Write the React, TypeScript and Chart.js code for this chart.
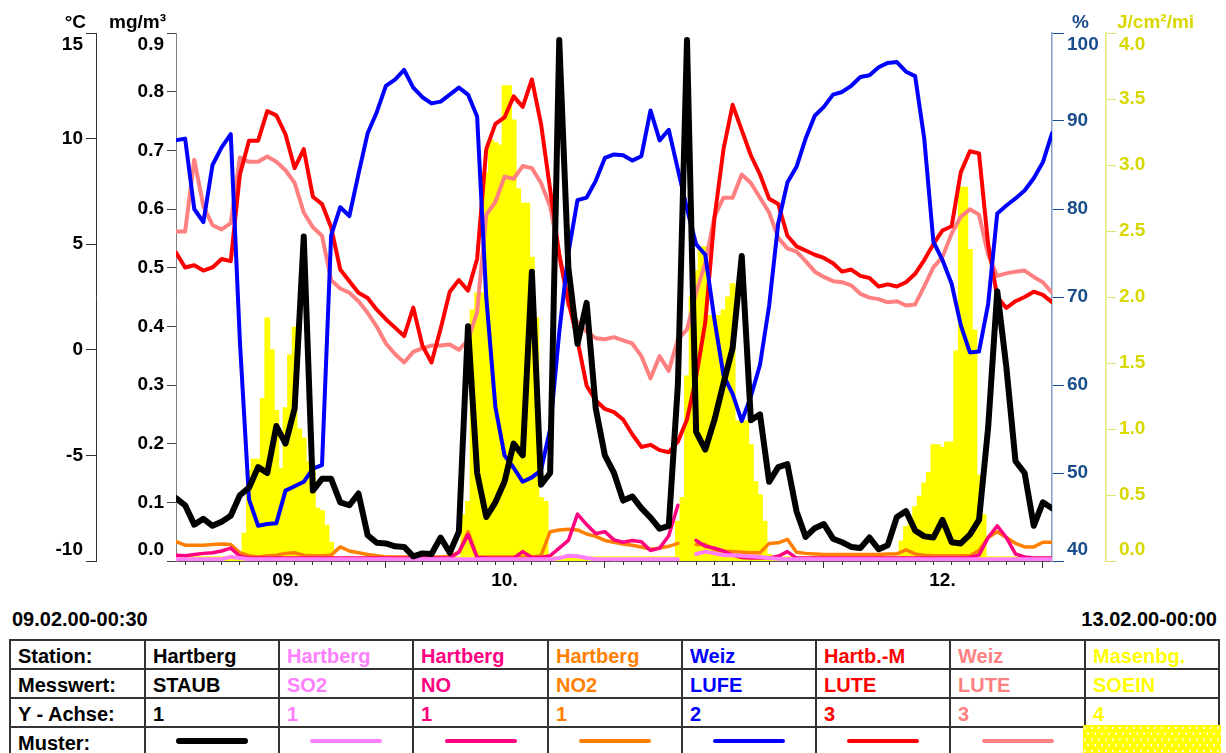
import React, { useEffect, useRef } from "react";
import { Chart, registerables } from "chart.js";

Chart.register(...registerables);

const FONT = '"Liberation Sans", Arial, Helvetica, sans-serif';

// x positions: hours after 09.02.00 00:00 (hourly series) and half-hourly bars
const HOURS = Array.from({ length: 97 }, (_, i) => i);
const HALF_HOURS = Array.from({ length: 193 }, (_, i) => i / 2);

const DAY_LABELS = ["09.", "10.", "11.", "12."];
const START_LABEL = "09.02.00-00:30";
const END_LABEL = "13.02.00-00:00";

// Hartberg STAUB, mg/m³ (axis 1)
const STAUB = [
  0.107, 0.095, 0.062, 0.072, 0.06, 0.067, 0.077, 0.112, 0.125, 0.16,
  0.15, 0.23, 0.2, 0.26, 0.553, 0.12, 0.14, 0.14, 0.1, 0.095,
  0.115, 0.044, 0.031, 0.03, 0.025, 0.024, 0.008, 0.013, 0.012, 0.04,
  0.014, 0.05, 0.4, 0.15, 0.075, 0.1, 0.135, 0.2, 0.18, 0.493,
  0.13, 0.15, 0.888, 0.5, 0.37, 0.44, 0.26, 0.18, 0.15, 0.103,
  0.11, 0.09, 0.074, 0.055, 0.06, 0.3, 0.888, 0.22, 0.19, 0.24,
  0.303, 0.363, 0.52, 0.24, 0.25, 0.135, 0.16, 0.165, 0.085, 0.041,
  0.056, 0.063, 0.038, 0.032, 0.024, 0.022, 0.04, 0.02, 0.027, 0.075,
  0.085, 0.052, 0.042, 0.04, 0.07, 0.032, 0.03, 0.045, 0.07, 0.227,
  0.46, 0.33, 0.17, 0.15, 0.06, 0.1, 0.09,
];

// Hartberg SO2, mg/m³ (axis 1)
const SO2 = [
  0.003, 0.003, 0.003, 0.003, 0.003, 0.003, 0.007, 0.005, 0.003, 0.003,
  0.003, 0.003, 0.003, 0.003, 0.003, 0.003, 0.003, 0.003, 0.003, 0.003,
  0.003, 0.003, 0.003, 0.003, 0.003, 0.003, 0.003, 0.003, 0.003, 0.003,
  0.003, 0.003, 0.003, 0.003, 0.003, 0.003, 0.003, 0.003, 0.003, 0.003,
  0.003, 0.003, 0.005, 0.009, 0.008, 0.005, 0.003, 0.003, 0.003, 0.003,
  0.003, 0.003, 0.003, 0.003, 0.003, 0.003, null, 0.012, 0.016, 0.013,
  0.01, 0.01, 0.009, 0.008, 0.007, 0.005, 0.004, 0.003, 0.003, 0.003,
  0.003, 0.003, 0.003, 0.003, 0.003, 0.003, 0.003, 0.003, 0.003, 0.003,
  0.003, 0.003, 0.003, 0.003, 0.003, 0.003, 0.003, 0.003, 0.003, 0.003,
  0.003, 0.003, 0.003, 0.003, 0.003, 0.003, 0.003,
];

// Hartberg NO, mg/m³ (axis 1)
const NO = [
  0.01, 0.009, 0.011, 0.013, 0.014, 0.017, 0.022, 0.008, 0.005, 0.005,
  0.005, 0.005, 0.005, 0.005, 0.005, 0.005, 0.005, 0.005, 0.005, 0.005,
  0.005, 0.005, 0.005, 0.005, 0.005, 0.005, 0.005, 0.005, 0.005, 0.005,
  0.005, 0.015, 0.045, 0.006, 0.005, 0.005, 0.005, 0.005, 0.016, 0.006,
  0.006, 0.009, 0.022, 0.035, 0.08, 0.062, 0.047, 0.05, 0.036, 0.032,
  0.035, 0.033, 0.018, 0.022, 0.043, 0.095, null, 0.035, 0.025, 0.022,
  0.017, 0.01, 0.006, 0.005, 0.005, 0.005, 0.008, 0.016, 0.005, 0.005,
  0.005, 0.005, 0.005, 0.005, 0.005, 0.005, 0.005, 0.005, 0.005, 0.005,
  0.005, 0.005, 0.005, 0.005, 0.005, 0.005, 0.005, 0.006, 0.01, 0.04,
  0.06, 0.04, 0.012, 0.007, 0.005, 0.005, 0.005,
];

// Hartberg NO2, mg/m³ (axis 1)
const NO2 = [
  0.033, 0.027, 0.027, 0.027, 0.028, 0.029, 0.028, 0.014, 0.009, 0.007,
  0.009, 0.01, 0.013, 0.014, 0.01, 0.009, 0.009, 0.01, 0.024, 0.017,
  0.014, 0.011, 0.009, 0.007, 0.007, 0.007, 0.007, 0.007, 0.007, 0.007,
  0.008, 0.015, 0.05, 0.007, 0.007, 0.007, 0.007, 0.007, 0.007, 0.007,
  0.009, 0.05, 0.053, 0.054, 0.053, 0.046, 0.042, 0.035, 0.032, 0.029,
  0.027, 0.024, 0.02, 0.022, 0.025, 0.03, null, 0.028, 0.028, 0.019,
  0.017, 0.016, 0.015, 0.014, 0.014, 0.03, 0.031, 0.037, 0.015, 0.013,
  0.012, 0.011, 0.011, 0.011, 0.011, 0.011, 0.011, 0.011, 0.012, 0.012,
  0.019, 0.012, 0.01, 0.009, 0.009, 0.009, 0.009, 0.009, 0.018, 0.04,
  0.05, 0.04, 0.03, 0.024, 0.024, 0.032, 0.032,
];

// Weiz LUFE, % (axis 2)
const LUFE = [
  87.8, 88.0, 80, 78.5, 85, 87, 88.5, 65, 47, 44,
  44.2, 44.3, 48, 48.5, 49, 50.5, 50.9, 77, 80.2, 79.2,
  84, 88.6, 91, 94, 94.7, 95.8, 93.8, 92.7, 92, 92.2,
  93, 93.8, 93, 90.5, 70, 57.5, 52, 50.6, 49, 49.5,
  50.3, 55, 66, 75, 81, 81.3, 83.2, 85.8, 86.2, 86.1,
  85.5, 86, 91.2, 87.8, 89, 84.5, 80, 76, 74.8, 67.5,
  61.1, 59, 55.9, 58.7, 62.3, 69, 78.4, 83, 84.8, 88,
  90.6, 91.6, 93, 93.3, 94, 95, 95.2, 96.1, 96.6, 96.7,
  95.6, 95.1, 88, 76.3, 74.2, 71.5, 66.8, 63.7, 63.8, 69.2,
  79.5, 80.4, 81.2, 82.1, 83.5, 85.3, 88.6,
];

// Hartb.-M LUTE, °C (axis 3)
const LUTE_HARTB = [
  4.6, 3.9, 4.0, 3.75, 3.9, 4.3, 4.2, 8.3, 9.9, 9.9,
  11.3, 11.1, 10.2, 8.6, 9.5, 7.25, 6.9, 5.8, 3.8, 3.25,
  2.7, 2.45, 1.9, 1.45, 1.05, 0.65, 2.0, 0.2, -0.6, 1.0,
  2.75, 3.3, 2.8, 4.3, 9.5, 10.7, 11.0, 12.0, 11.5, 12.8,
  10.7, 7.6, 4.5, 2.3, 0.45, -1.7, -2.4, -2.8, -2.95, -3.3,
  -4.0, -4.6, -4.5, -4.75, -4.85, -4.35, -3.3, -1.3, 1.3, 6.2,
  9.5, 11.6, 10.4, 9.2, 8.3, 7.15, 6.9, 5.4, 4.9, 4.7,
  4.5, 4.35, 4.1, 3.7, 3.8, 3.5, 3.4, 3.0, 3.1, 3.0,
  3.2, 3.6, 4.25, 5.0, 5.65, 5.85, 8.4, 9.4, 9.3, 5.0,
  2.5, 1.98, 2.3, 2.5, 2.75, 2.6, 2.26,
];

// Weiz LUTE, °C (axis 3)
const LUTE_WEIZ = [
  5.6, 5.6, 9.0, 6.8, 5.9, 5.7, 6.0, 9.1, 8.9, 8.9,
  9.15, 8.9, 8.5, 7.9, 6.5, 5.8, 5.4, 3.3, 2.9, 2.7,
  2.3, 1.75, 1.1, 0.3, -0.2, -0.6, -0.1, 0.08, 0.2, 0.2,
  0.25, 0.0, 0.45, 1.8, 6.4, 7.0, 8.2, 8.1, 8.7, 8.6,
  7.9, 6.8, 4.5, 2.1, 1.3, 0.85, 0.55, 0.5, 0.6, 0.45,
  0.3, -0.3, -1.35, -0.3, -1.0, 0.5, 0.95, 2.7, 4.1, 6.3,
  7.2, 7.2, 8.3, 7.9, 7.2, 6.5, 5.3, 4.8, 4.65, 4.2,
  3.7, 3.45, 3.25, 3.2, 3.05, 2.65, 2.47, 2.4, 2.25, 2.3,
  2.1, 2.15, 3.0, 3.9, 4.4, 5.5, 6.3, 6.65, 6.4, 4.5,
  3.5, 3.62, 3.7, 3.75, 3.45, 3.2, 2.7,
];

// Masenbg. SOEIN, J/cm²/min (axis 4), half-hourly
const SOEIN = [
  0, 0, 0, 0, 0, 0, 0, 0, 0, 0,
  0, 0, 0, 0, 0.05, 0.21, 0.69, 0.77, 0.77, 1.23,
  1.84, 1.6, 1.14, 0.7, 1.16, 1.56, 1.77, 1.0, 0.93, 0.75,
  0.72, 0.4, 0.38, 0.27, 0.14, 0, 0, 0, 0, 0,
  0, 0, 0, 0, 0, 0, 0, 0, 0, 0,
  0, 0, 0, 0, 0, 0, 0, 0, 0, 0,
  0, 0, 0, 0.35, 0.45, 1.9, 2.03, 2.03, 2.94, 3.19,
  3.17, 3.15, 3.6, 3.6, 3.34, 2.82, 2.71, 2.71, 2.3, 1.84,
  0.48, 0.45, 0, 0, 0, 0, 0, 0, 0, 0,
  0, 0, 0, 0, 0, 0, 0, 0, 0, 0,
  0, 0, 0, 0, 0, 0, 0, 0, 0, 0,
  0.3, 0.48, 1.4, 2.0, 2.2, 2.38, 2.38, 1.86, 1.86, 1.86,
  1.9, 2.0, 2.1, 1.06, 1.06, 1.06, 0.88, 0.6, 0.5, 0.3,
  0.05, 0, 0, 0, 0, 0, 0, 0, 0, 0,
  0, 0, 0, 0, 0, 0, 0, 0, 0, 0,
  0, 0, 0, 0, 0, 0, 0, 0, 0, 0.15,
  0.26, 0.3, 0.41, 0.49, 0.59, 0.67, 0.88, 0.88, 0.86, 0.9,
  0.9, 1.59, 2.83, 2.83, 2.36, 1.75, 0.65, 0.35, 0, 0,
  0, 0, 0, 0, 0, 0, 0, 0, 0, 0,
  0, 0, 0,
];

// Legend table
const STATIONS = ["Hartberg", "Hartberg", "Hartberg", "Hartberg", "Weiz", "Hartb.-M", "Weiz", "Masenbg."];
const MESSWERTE = ["STAUB", "SO2", "NO", "NO2", "LUFE", "LUTE", "LUTE", "SOEIN"];
const Y_ACHSE = ["1", "1", "1", "1", "2", "3", "3", "4"];
const COLORS = ["#000000", "#ff80ff", "#ff0080", "#ff8000", "#0000ff", "#ff0000", "#ff8080", "#ffff00"];
const ROW_TITLES = ["Station:", "Messwert:", "Y - Achse:", "Muster:"];

const HUM_COLOR = "#1b4c8c";
const RAD_COLOR = "#d8d800";

const COL_X = [10, 145, 279, 413, 548, 682, 816, 950, 1085, 1219];
const ROW_Y = [640, 669, 698, 727];

const tickFont = { family: FONT, size: 19, weight: "bold" as const };

const toPoints = (vals: (number | null)[], xs: number[]) => vals.map((v, i) => ({ x: xs[i], y: v }));

const edgeLabelPlugin = {
  id: "edgeLabels",
  beforeDraw(chart: any) {
    ["yMg", "yTemp", "yHum", "yRad"].forEach((id) => {
      const s = chart.scales[id];
      if (!s) return;
      const items = s.getLabelItems();
      if (!items || items.length < 2) return;
      items[0].options.translation[1] = s.bottom - 11;
      items[items.length - 1].options.translation[1] = s.top + 12;
    });
  },
};

function lineDs(label: string, vals: (number | null)[], color: string, axis: string, width: number) {
  return {
    type: "line" as const,
    label,
    data: toPoints(vals, HOURS),
    borderColor: color,
    backgroundColor: color,
    borderWidth: width,
    pointRadius: 0,
    tension: 0,
    fill: false,
    spanGaps: false,
    borderJoinStyle: "round" as const,
    borderCapStyle: "round" as const,
    yAxisID: axis,
    xAxisID: "x",
  };
}

export default function App() {
  const ref = useRef<HTMLCanvasElement>(null);

  useEffect(() => {
    if (!ref.current) return;
    const chart = new Chart(ref.current, {
      type: "line",
      data: {
        datasets: [
          lineDs("STAUB", STAUB, COLORS[0], "yMg", 6),
          lineDs("SO2", SO2, COLORS[1], "yMg", 4),
          lineDs("NO", NO, COLORS[2], "yMg", 3.5),
          lineDs("NO2", NO2, COLORS[3], "yMg", 3.5),
          lineDs("LUFE", LUFE, COLORS[4], "yHum", 4),
          lineDs("LUTE Hartb.-M", LUTE_HARTB, COLORS[5], "yTemp", 4),
          lineDs("LUTE Weiz", LUTE_WEIZ, COLORS[6], "yTemp", 4),
          {
            type: "bar" as const,
            label: "SOEIN",
            data: toPoints(SOEIN, HALF_HOURS),
            backgroundColor: COLORS[7],
            borderWidth: 0,
            barPercentage: 1,
            categoryPercentage: 1,
            minBarLength: 4,
            inflateAmount: 0.6,
            yAxisID: "yRad",
            xAxisID: "x",
          } as any,
        ],
      },
      options: {
        animation: false,
        responsive: false,
        maintainAspectRatio: false,
        events: [],
        layout: { padding: { top: 33, left: 0, right: 0, bottom: 0 } },
        plugins: { legend: { display: false }, tooltip: { enabled: false } },
        scales: {
          x: {
            type: "linear",
            position: "bottom",
            min: 0,
            max: 96,
            offset: false,
            ticks: {
              stepSize: 2,
              autoSkip: false,
              maxRotation: 0,
              minRotation: 0,
              padding: 1,
              color: "#000",
              font: tickFont,
              callback: (v: any) => (Number(v) % 24 === 12 ? DAY_LABELS[Math.floor(Number(v) / 24)] : ""),
            },
            grid: {
              drawOnChartArea: false,
              drawTicks: true,
              tickLength: 7,
              tickColor: "#333",
              tickWidth: 1,
              tickBorderDash: (ctx: any) => (ctx.tick && Number(ctx.tick.value) % 24 === 0 ? [] : [3, 12]),
            } as any,
            border: { display: true, color: "#555", width: 1 },
            afterFit: (s: any) => {
              s.height = 39;
            },
          },
          yMg: {
            type: "linear",
            position: "left",
            weight: 1,
            min: 0,
            max: 0.9,
            ticks: {
              stepSize: 0.1,
              padding: 3,
              color: "#000",
              font: tickFont,
              callback: (v: any) => Number(v).toFixed(1),
            },
            grid: { drawOnChartArea: false, tickLength: 9, tickColor: "#444" },
            border: { display: true, color: "#808080", width: 1 },
            afterFit: (s: any) => {
              s.width = 80;
            },
          },
          yTemp: {
            type: "linear",
            position: "left",
            weight: 2,
            min: -10,
            max: 15,
            ticks: { stepSize: 5, padding: 3, color: "#000", font: tickFont },
            grid: { drawOnChartArea: false, tickLength: 10, tickColor: "#333" },
            border: { display: true, color: "#333", width: 1 },
            afterFit: (s: any) => {
              s.width = 96;
            },
          },
          yHum: {
            type: "linear",
            position: "right",
            weight: 1,
            min: 40,
            max: 100,
            ticks: { stepSize: 10, padding: 3, color: HUM_COLOR, font: tickFont },
            grid: { drawOnChartArea: false, tickLength: 12, tickColor: HUM_COLOR },
            border: { display: true, color: "#7f9cc4", width: 1.5 },
            afterFit: (s: any) => {
              s.width = 54;
            },
          },
          yRad: {
            type: "linear",
            position: "right",
            weight: 2,
            min: 0,
            max: 4,
            ticks: {
              stepSize: 0.5,
              padding: 3,
              color: RAD_COLOR,
              font: tickFont,
              callback: (v: any) => Number(v).toFixed(1),
            },
            grid: { drawOnChartArea: false, tickLength: 10, tickColor: "#e2e26a" },
            border: { display: true, color: "#e6e680", width: 1.5 },
            afterFit: (s: any) => {
              s.width = 120;
            },
          },
        } as any,
      },
      plugins: [edgeLabelPlugin],
    });
    return () => chart.destroy();
  }, []);

  const abs = (extra: React.CSSProperties): React.CSSProperties => ({ position: "absolute", ...extra });
  const titleStyle = (extra: React.CSSProperties) =>
    abs({ top: 12, fontSize: 19, lineHeight: "19px", fontWeight: "bold", whiteSpace: "nowrap", ...extra });
  const cellText = (extra: React.CSSProperties) =>
    abs({ fontSize: 20, lineHeight: "20px", fontWeight: "bold", whiteSpace: "nowrap", ...extra });

  const rowsText = [STATIONS, MESSWERTE, Y_ACHSE];

  return (
    <div
      style={{
        position: "absolute",
        left: 0,
        top: 0,
        width: 1226,
        height: 753,
        overflow: "hidden",
        background: "#fff",
        fontFamily: FONT,
      }}
    >
      <canvas ref={ref} width={1226} height={600} style={{ position: "absolute", left: 0, top: 0, width: 1226, height: 600 }} />

      <div style={titleStyle({ left: 0, width: 86, textAlign: "right", color: "#000" })}>°C</div>
      <div style={titleStyle({ left: 0, width: 166, textAlign: "right", color: "#000" })}>mg/m³</div>
      <div style={titleStyle({ left: 1072, color: HUM_COLOR })}>%</div>
      <div style={titleStyle({ left: 1117, color: RAD_COLOR })}>J/cm²/mi</div>

      <div style={cellText({ left: 12, top: 609, color: "#000" })}>{START_LABEL}</div>
      <div style={cellText({ left: 0, width: 1217, top: 609, textAlign: "right", color: "#000" })}>{END_LABEL}</div>

      {ROW_Y.map((y, i) => (
        <div key={"h" + i} style={abs({ left: 9, top: y - 1, width: 1211, height: 2, background: "#333" })} />
      ))}
      {COL_X.map((x, i) => (
        <div key={"v" + i} style={abs({ left: x - 1, top: 639, width: 2, height: 120, background: "#333" })} />
      ))}

      {ROW_TITLES.map((t, r) => (
        <div key={"t" + r} style={cellText({ left: COL_X[0] + 8, top: ROW_Y[r] + 6, color: "#000" })}>
          {t}
        </div>
      ))}

      {rowsText.map((row, r) =>
        row.map((txt, c) => (
          <div key={"c" + r + "-" + c} style={cellText({ left: COL_X[c + 1] + 8, top: ROW_Y[r] + 6, color: COLORS[c] })}>
            {txt}
          </div>
        ))
      )}

      {COLORS.slice(0, 7).map((col, c) => {
        const cx = (COL_X[c + 1] + COL_X[c + 2]) / 2;
        const h = c === 0 ? 6 : 4;
        return (
          <div
            key={"m" + c}
            style={abs({ left: cx - 36, top: 741 - h / 2, width: 72, height: h, borderRadius: h / 2, background: col })}
          />
        );
      })}
      <div
        style={abs({
          left: COL_X[8] - 2,
          top: ROW_Y[3] - 2,
          width: COL_X[9] - COL_X[8] + 4,
          height: 40,
          backgroundColor: COLORS[7],
          backgroundImage:
            "radial-gradient(circle at 1.75px 2.9px, #fff 0.8px, rgba(255,255,255,0) 1.3px), radial-gradient(circle at 5.25px 8.7px, #fff 0.8px, rgba(255,255,255,0) 1.3px)",
          backgroundSize: "7px 11.6px",
        })}
      />
    </div>
  );
}
